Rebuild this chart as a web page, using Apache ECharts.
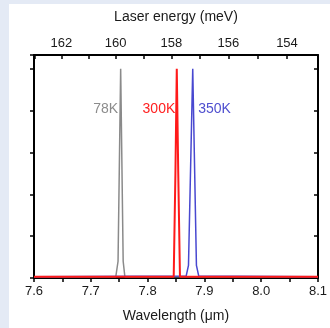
<!DOCTYPE html>
<html>
<head>
<meta charset="utf-8">
<script src="https://cdn.jsdelivr.net/npm/echarts@6/dist/echarts.min.js"></script>
<style>
html, body { margin: 0; padding: 0; background: #fff; }
#main { width: 330px; height: 328px; }
</style>
</head>
<body>
<div id="main"></div>
<script>
// spectra: [wavelength (um), intensity]
var gray78K = [[7.6, 0.03], [7.744, 0.03], [7.748, 0.4], [7.7526, 5.0], [7.757, 0.4], [7.760, 0.03], [8.1, 0.03]];
var red300K = [[7.6, 0.03], [7.846, 0.03], [7.849, 2.5], [7.8514, 5.0], [7.854, 2.5], [7.857, 0.03], [8.1, 0.03]];
var blue350K = [[7.6, 0.03], [7.868, 0.05], [7.872, 0.3], [7.8795, 5.0], [7.886, 0.3], [7.890, 0.05], [8.1, 0.03]];

// top axis: laser energy (meV), E = hc / lambda
var hcConst = 1239;
var energyTicks = [163, 162, 161, 160, 159, 158, 157, 156, 155, 154];
var energyLabels = [162, 160, 158, 156, 154];

var bottomTicks = [7.6, 7.65, 7.7, 7.75, 7.8, 7.85, 7.9, 7.95, 8.0, 8.05, 8.1];

var font = 'Liberation Sans, Arial, sans-serif';
var ink = '#1a1a1a';

var chart = echarts.init(document.getElementById('main'));

function toLambda(e) { return hcConst / e; }

function tag(text, x, y, pos, dist, color) {
	return {
		symbol: 'circle',
		symbolSize: 1,
		itemStyle: { color: 'rgba(0,0,0,0)' },
		data: [{ coord: [x, y], value: text }],
		label: { show: true, position: pos, distance: dist, formatter: text, fontFamily: font, fontSize: 14, color: color }
	};
}

var option = {
	backgroundColor: '#e4eaf5',
	animation: false,
	graphic: [{
		type: 'rect',
		left: 9, top: 4,
		shape: { width: 330, height: 330 },
		style: { fill: '#ffffff' },
		z: -10, silent: true
	}],
	grid: { left: 34, right: 11, top: 55, bottom: 47 },
	xAxis: [{
		type: 'value',
		position: 'bottom',
		min: 7.6, max: 8.1, interval: 0.1,
		name: 'Wavelength (\u03bcm)',
		nameLocation: 'middle',
		nameGap: 31,
		nameTextStyle: { fontFamily: font, fontSize: 14, color: ink },
		axisLine: { onZero: false, lineStyle: { color: '#000', width: 2 } },
		axisTick: { show: true, length: 4, customValues: bottomTicks, lineStyle: { color: '#000', width: 1.5 } },
		axisLabel: {
			fontFamily: font, fontSize: 13, color: ink, margin: 7,
			formatter: function (v) { return v.toFixed(1); }
		},
		splitLine: { show: false }
	}, {
		type: 'value',
		position: 'top',
		min: 7.6, max: 8.1,
		name: 'Laser energy (meV)',
		nameLocation: 'middle',
		nameGap: 31,
		nameTextStyle: { fontFamily: font, fontSize: 14, color: ink },
		axisLine: { onZero: false, lineStyle: { color: '#000', width: 2 } },
		axisTick: { show: true, inside: true, length: 4, customValues: energyTicks.map(toLambda), lineStyle: { color: '#000', width: 1.5 } },
		axisLabel: {
			fontFamily: font, fontSize: 13, color: ink, margin: 5,
			customValues: energyLabels.map(toLambda),
			formatter: function (v) { return String(Math.round(hcConst / v)); }
		},
		splitLine: { show: false }
	}],
	yAxis: [{
		type: 'value',
		position: 'left',
		min: 0, max: 5.33, interval: 1,
		axisLine: { show: true, onZero: false, lineStyle: { color: '#000', width: 2 } },
		axisTick: { show: true, length: 4, lineStyle: { color: '#000', width: 1.5 } },
		axisLabel: { show: false },
		splitLine: { show: false }
	}, {
		type: 'value',
		position: 'right',
		min: 0, max: 5.33, interval: 1,
		axisLine: { show: true, onZero: false, lineStyle: { color: '#000', width: 2 } },
		axisTick: { show: true, inside: true, length: 4, lineStyle: { color: '#000', width: 1.5 } },
		axisLabel: { show: false },
		splitLine: { show: false }
	}],
	series: [{
		name: '78K',
		type: 'line',
		data: gray78K,
		symbol: 'none',
		lineStyle: { color: '#8a8a8a', width: 1.5 },
		markPoint: tag('78K', 7.7526, 4.03, 'left', 2, '#8c8c8c')
	}, {
		name: '350K',
		type: 'line',
		data: blue350K,
		symbol: 'none',
		lineStyle: { color: '#4848d0', width: 1.5 },
		markPoint: tag('350K', 7.8795, 4.03, 'right', 5, '#4f4fcf')
	}, {
		name: '300K',
		type: 'line',
		data: red300K,
		symbol: 'none',
		lineStyle: { color: '#ff1a1a', width: 2 },
		markPoint: tag('300K', 7.8514, 4.03, 'left', 1, '#ff2020')
	}]
};

chart.setOption(option);
</script>
</body>
</html>
